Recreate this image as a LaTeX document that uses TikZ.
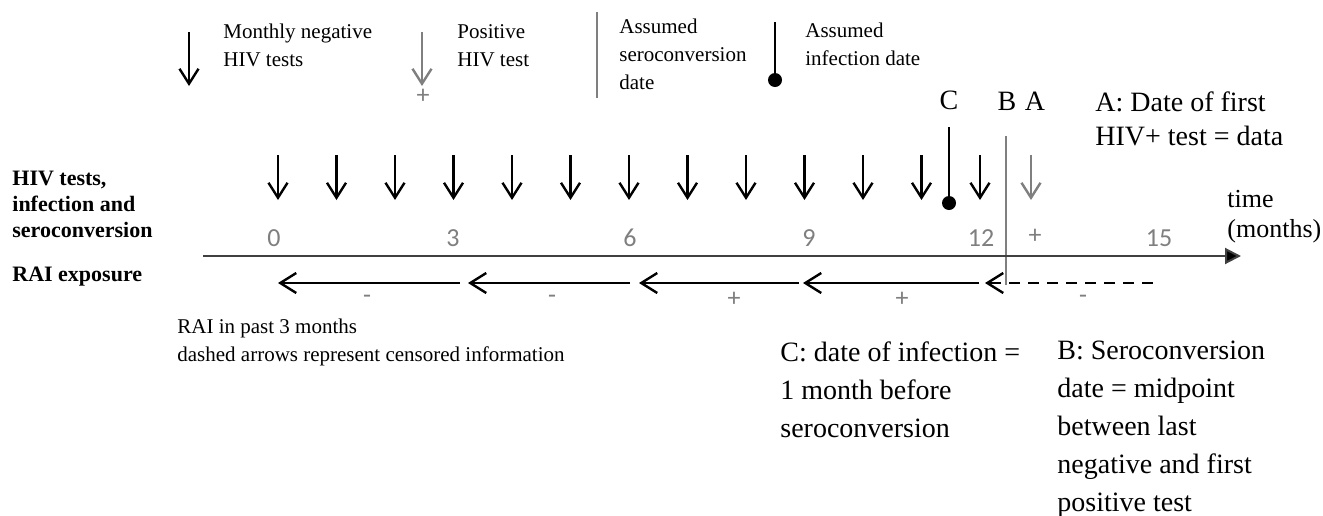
\documentclass[tikz,border=0pt]{standalone}
\usepackage{fontspec}
\setmainfont{Liberation Serif}
\newfontfamily\calfont{Carlito}
\usetikzlibrary{arrows.meta,positioning}
\definecolor{tgray}{RGB}{127,127,127}
\definecolor{axgray}{RGB}{64,64,64}
\tikzstyle{negtest}=[line width=1.2pt, -{Straight Barb[length=7.5pt,width=9.5pt]}]
\tikzstyle{postest}=[negtest, tgray]
\tikzstyle{scline}=[line width=1.4pt, tgray]
\tikzstyle{infline}=[line width=1.2pt]
\tikzstyle{dot}=[circle, fill=black, inner sep=0, minimum size=7pt]
\tikzstyle{taxis}=[line width=1pt, axgray, -{Triangle[length=8pt,width=8pt,fill=black]}]
\tikzstyle{rai}=[line width=1.2pt, -{Straight Barb[length=8pt,width=10pt]}]
\tikzstyle{cens}=[rai, dash pattern=on 5.5pt off 4pt]
\tikzstyle{num}=[font=\calfont\fontsize{13}{15}\selectfont, text=tgray, inner sep=0]
\tikzstyle{txt}=[font=\fontsize{10.5}{14}\selectfont, align=left, anchor=north west, inner sep=0]
\tikzstyle{hd}=[font=\bfseries\fontsize{11}{13}\selectfont, align=left, anchor=north west, inner sep=0]
\tikzstyle{big}=[font=\fontsize{14}{19}\selectfont, align=left, anchor=north west, inner sep=0]
\tikzstyle{lbl}=[font=\fontsize{14}{19}\selectfont, anchor=base, inner sep=0]

\begin{document}
\begin{tikzpicture}[x=0.5pt, y=-0.5pt]
\useasboundingbox (0,0) rectangle (1323,515);

% legend
\draw[negtest] (189,32) -- (189,86);
\node[txt] (negtxt) at (223,24) {Monthly negative\\HIV tests};
\draw[postest] (422,32) -- (422,86);
\node[num] (posplus) at (423,96) {+};
\node[txt] (postxt) at (457,24) {Positive\\HIV test};
\draw[scline] (597,12) -- (597,98);
\node[txt] (sctxt) at (619,19) {Assumed\\seroconversion\\date};
\coordinate (inftop) at (775,22);
\node[dot] (infdot) at (775,80) {};
\draw[infline] (inftop) -- (infdot.center);
\node[txt] (inftxt) at (805,23) {Assumed\\infection date};

% row labels
\node[hd] (hivlbl) at (12,171) {HIV tests,\\infection and\\seroconversion};
\node[hd] (railbl) at (12,267) {RAI exposure};

% monthly tests
\foreach \m in {0,...,12}
    \draw[negtest] (278+58.5*\m,155) -- (278+58.5*\m,200);
\foreach \m/\x in {0/274, 3/453, 6/630, 9/809, 12/981, 15/1159}
    \node[num] (n\m) at (\x,238) {\m};
\draw[postest] (1031,155) -- (1031,200);
\node[num] (plus) at (1035,236) {+};

% infection and seroconversion
\coordinate (ctop) at (949,127);
\node[dot] (cdot) at (949,203) {};
\draw[infline] (ctop) -- (cdot.center);
\coordinate (btop) at (1006,136);
\coordinate (bbot) at (1006,285);
\draw[scline] (btop) -- (bbot);
\node[lbl] (labC) at (949,109) {C};
\node[lbl] (labB) at (1007,110) {B};
\node[lbl] (labA) at (1035,110) {A};

% time axis
\coordinate (ax0) at (203,256);
\coordinate (ax1) at (1241,256);
\draw[taxis] (ax0) -- (ax1);
\node[txt, font=\fontsize{13}{15}\selectfont] (time) at (1227,190) {time\\(months)};

% RAI in past 3 months
\foreach \a/\b in {460/278, 630/468, 799/639, 979/803}
    \draw[rai] (\a,283) -- (\b,283);
\draw[cens] (1153,283) -- (985,283);
\foreach \x/\s [count=\i] in {367/-, 552/-, 734/+, 902/+, 1083/-}
    \node[num] (s\i) at (\x,299) {\s};

% notes
\node[txt] (note) at (177,319) {RAI in past 3 months\\dashed arrows represent censored information};
\node[big, font=\fontsize{14}{17}\selectfont] (atxt) at (1095,91) {A: Date of first\\HIV+ test = data};
\node[big] (ctxt) at (780,341) {C: date of infection =\\1 month before\\seroconversion};
\node[big] (btxt) at (1057,341) {B: Seroconversion\\date = midpoint\\between last\\negative and first\\positive test};
\end{tikzpicture}
\end{document}
